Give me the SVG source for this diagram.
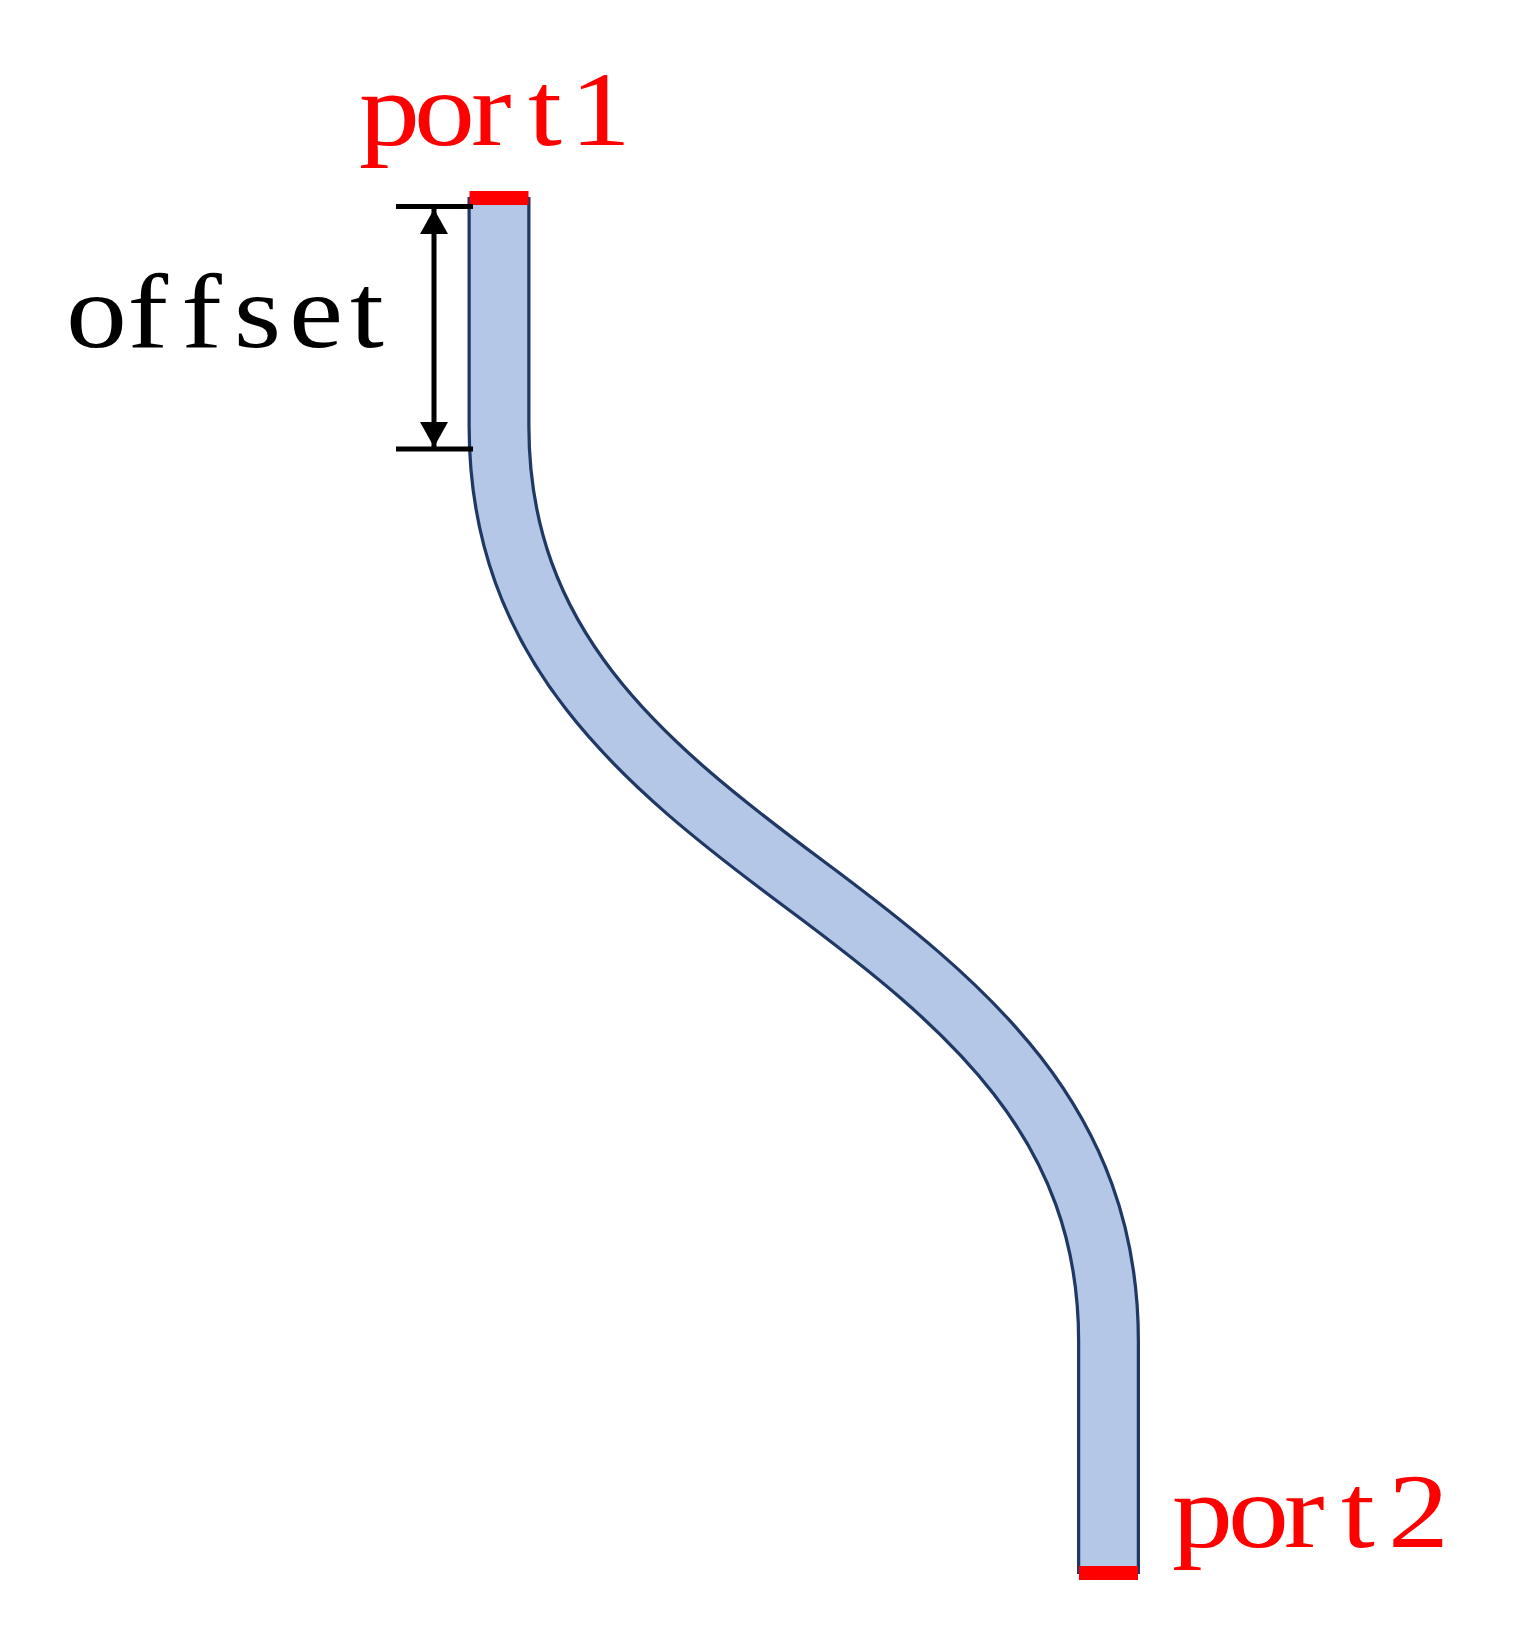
<svg xmlns="http://www.w3.org/2000/svg" width="1513" height="1636" viewBox="0 0 1513 1636">
<style>
.lbl{font-family:"Liberation Serif","DejaVu Serif",serif;font-size:106px}
.red{fill:#ff0000}
.tick{stroke:#000;stroke-width:5;fill:none}
.tube{fill:none}
</style>
<defs>
<marker id="ah" viewBox="0 0 25 28" refX="25" refY="14" markerWidth="25" markerHeight="28" markerUnits="userSpaceOnUse" orient="auto-start-reverse"><path d="M0 0L25 14L0 28Z" fill="#000"/></marker>
</defs>
<rect width="1513" height="1636" fill="#fff"/>
<g id="waveguide">
<path class="tube" stroke="#203864" stroke-width="63" d="M499 197V426C499 645 640 762 803.500 883.500C967 1005 1108.500 1122 1108.500 1341V1574"/>
<path class="tube" stroke="#b4c7e7" stroke-width="56.500" d="M499 197V426C499 645 640 762 803.500 883.500C967 1005 1108.500 1122 1108.500 1341V1574"/>
</g>
<g id="port1">
<rect class="red" x="469.500" y="191" width="59" height="14"/>
<text class="lbl red" transform="translate(356 145) scale(1.15 1)" x="2.600 50.400 100 149.600 186" y="0">port1</text>
</g>
<g id="port2">
<rect class="red" x="1079" y="1566" width="59" height="14"/>
<text class="lbl red" transform="translate(1173 1547) scale(1.15 1)" x="-0.900 47.800 96.500 146 187" y="0">port2</text>
</g>
<g id="connectors">
<line class="tick" x1="396" y1="206.500" x2="473" y2="206.500"/>
<line class="tick" x1="396" y1="449" x2="473" y2="449"/>
<line class="tick" x1="434" y1="209" x2="434" y2="447" marker-start="url(#ah)" marker-end="url(#ah)"/>
</g>
<g id="offset-label">
<text class="lbl" transform="translate(67 347) scale(1.15 1)" x="-0.900 52.600 99.300 145 193 246" y="0">offset</text>
</g>
</svg>
